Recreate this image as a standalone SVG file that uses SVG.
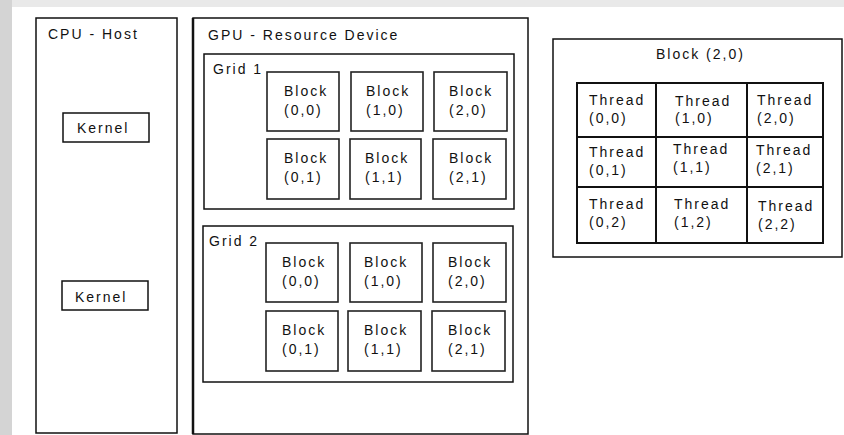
<svg xmlns="http://www.w3.org/2000/svg" width="844" height="435" viewBox="0 0 844 435">
<style>
text{font-family:"Liberation Sans",Arial,sans-serif;font-size:14px;letter-spacing:2px;fill:#111}
.box{fill:#fff;stroke:#111;stroke-width:1.5}
.blk{fill:#fff;stroke:#222;stroke-width:1.6}
.tl{stroke:#111;stroke-width:2;fill:none}
</style>
<rect x="0" y="0" width="844" height="435" fill="#e9e9e9"/>
<rect x="0" y="0" width="12" height="435" fill="#d4d4d4"/>
<rect x="12" y="7" width="832" height="428" fill="#fff"/>
<g id="cpu">
<rect class="box" x="36" y="18" width="141" height="415"/>
<text x="48" y="39">CPU - Host</text>
</g>
<g id="kernel1">
<rect class="box" x="63" y="113" width="86" height="29"/>
<text x="77" y="133">Kernel</text>
</g>
<g id="kernel2">
<rect class="box" x="62" y="281" width="86" height="29" stroke-width="2"/>
<text x="75" y="302">Kernel</text>
</g>
<g id="gpu">
<rect class="box" x="193" y="18" width="335" height="416"/>
<line x1="193" y1="18" x2="193" y2="434" stroke="#111" stroke-width="2.5"/>
<text x="208" y="40">GPU - Resource Device</text>
</g>
<g id="grid1">
<rect class="box" x="204" y="54" width="310" height="155"/>
<text x="213" y="74">Grid 1</text>
</g>
<g id="g1b00"><rect class="blk" x="267" y="72" width="72" height="59"/><text x="284" y="96">Block</text><text x="284" y="115">(0,0)</text></g>
<g id="g1b10"><rect class="blk" x="351" y="72" width="72" height="59"/><text x="366" y="96">Block</text><text x="366" y="115">(1,0)</text></g>
<g id="g1b20"><rect class="blk" x="434" y="72" width="73" height="59"/><text x="449" y="96">Block</text><text x="449" y="115">(2,0)</text></g>
<g id="g1b01"><rect class="blk" x="267" y="139" width="72" height="60"/><text x="284" y="163">Block</text><text x="284" y="182">(0,1)</text></g>
<g id="g1b11"><rect class="blk" x="350" y="139" width="71" height="60"/><text x="365" y="163">Block</text><text x="365" y="182">(1,1)</text></g>
<g id="g1b21"><rect class="blk" x="433" y="139" width="73" height="60"/><text x="449" y="163">Block</text><text x="449" y="182">(2,1)</text></g>
<g id="grid2">
<rect class="box" x="203" y="226" width="310" height="156"/>
<text x="209" y="246">Grid 2</text>
</g>
<g id="g2b00"><rect class="blk" x="266" y="243" width="72" height="59"/><text x="282" y="267">Block</text><text x="282" y="286">(0,0)</text></g>
<g id="g2b10"><rect class="blk" x="350" y="243" width="72" height="59"/><text x="364" y="267">Block</text><text x="364" y="286">(1,0)</text></g>
<g id="g2b20"><rect class="blk" x="433" y="243" width="73" height="59"/><text x="448" y="267">Block</text><text x="448" y="286">(2,0)</text></g>
<g id="g2b01"><rect class="blk" x="266" y="311" width="72" height="60"/><text x="282" y="335">Block</text><text x="282" y="354">(0,1)</text></g>
<g id="g2b11"><rect class="blk" x="348" y="311" width="73" height="60"/><text x="364" y="335">Block</text><text x="364" y="354">(1,1)</text></g>
<g id="g2b21"><rect class="blk" x="432" y="311" width="73" height="60"/><text x="448" y="335">Block</text><text x="448" y="354">(2,1)</text></g>
<g id="block20">
<rect class="box" x="553" y="39" width="289" height="218" stroke-width="1.2"/>
<text x="656" y="59">Block (2,0)</text>
</g>
<g id="threads">
<rect class="tl" x="577" y="83" width="246" height="160"/>
<line class="tl" x1="656" y1="83" x2="656" y2="243"/>
<line class="tl" x1="747" y1="83" x2="747" y2="243"/>
<line class="tl" x1="577" y1="137" x2="823" y2="137"/>
<line class="tl" x1="577" y1="187" x2="823" y2="187"/>
<text x="589" y="105">Thread</text><text x="589" y="123">(0,0)</text>
<text x="675" y="106">Thread</text><text x="675" y="123">(1,0)</text>
<text x="757" y="105">Thread</text><text x="757" y="123">(2,0)</text>
<text x="589" y="157">Thread</text><text x="589" y="175">(0,1)</text>
<text x="673" y="154">Thread</text><text x="673" y="172">(1,1)</text>
<text x="756" y="155">Thread</text><text x="756" y="173">(2,1)</text>
<text x="589" y="209">Thread</text><text x="589" y="227">(0,2)</text>
<text x="674" y="209">Thread</text><text x="674" y="227">(1,2)</text>
<text x="758" y="211">Thread</text><text x="758" y="229">(2,2)</text>
</g>
</svg>
